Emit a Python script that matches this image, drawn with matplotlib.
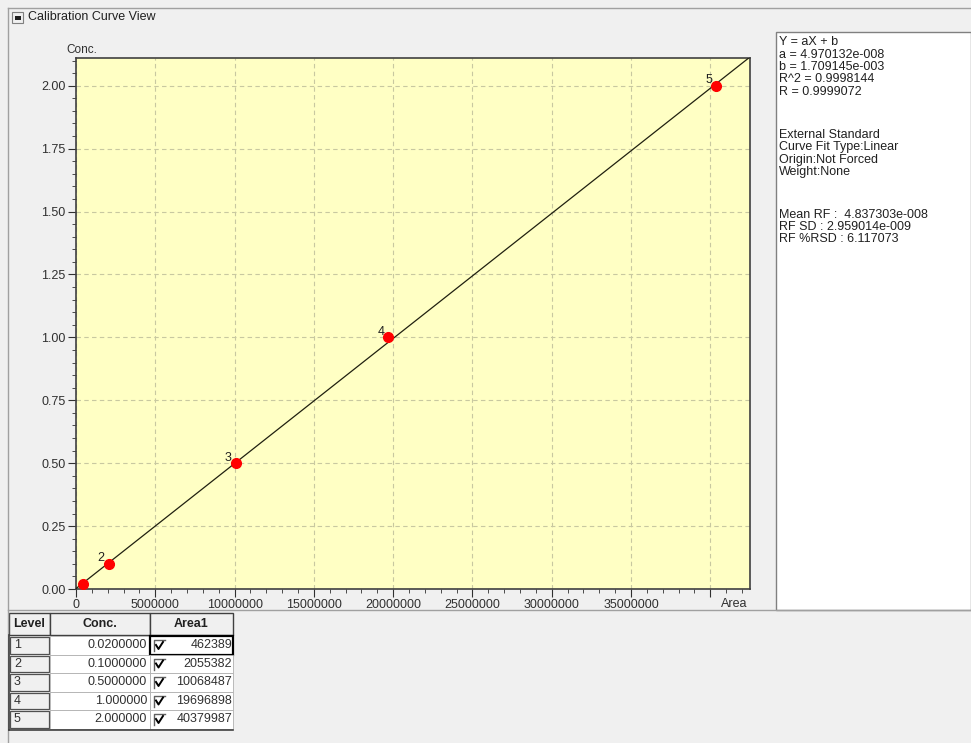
import matplotlib.pyplot as plt
from matplotlib.patches import Rectangle
from matplotlib.ticker import MultipleLocator, FixedLocator

plt.rcParams['font.family'] = ['Liberation Sans', 'DejaVu Sans']

# calibration levels
levels = [1, 2, 3, 4, 5]
conc = [0.02, 0.1, 0.5, 1.0, 2.0]
conc_txt = ['0.0200000', '0.1000000', '0.5000000', '1.000000', '2.000000']
area = [462389, 2055382, 10068487, 19696898, 40379987]

# fit coefficients
a = 4.970132e-08
b = 1.709145e-03

info = ['Y = aX + b',
        'a = 4.970132e-008',
        'b = 1.709145e-003',
        'R^2 = 0.9998144',
        'R = 0.9999072',
        '',
        'External Standard',
        'Curve Fit Type:Linear',
        'Origin:Not Forced',
        'Weight:None',
        '',
        'Mean RF :  4.837303e-008',
        'RF SD : 2.959014e-009',
        'RF %RSD : 6.117073']

W, H = 971, 743
fig = plt.figure(figsize=(W / 100, H / 100), dpi=100)
fig.patch.set_facecolor('#f0f0f0')

# overlay in pixel coordinates for the window chrome and the table
bg = fig.add_axes([0, 0, 1, 1], zorder=0)
bg.set_xlim(0, W)
bg.set_ylim(H, 0)
bg.axis('off')

bg.plot([8, W], [8, 8], color='#a0a0a0', lw=1)
bg.plot([8, 8], [8, H], color='#a0a0a0', lw=1)
bg.add_patch(Rectangle((12, 12), 11, 11, facecolor='#f0f0f0', edgecolor='#808080', lw=0.8))
bg.add_patch(Rectangle((14.5, 15.5), 6, 4, facecolor='#202020', edgecolor='none'))
bg.text(28, 17, 'Calibration Curve View', fontsize=9, va='center', color='#202020')
bg.plot([8, W], [610, 610], color='#a0a0a0', lw=1)

# right panel
bg.add_patch(Rectangle((776, 32), W - 776, 578, facecolor='white', edgecolor='#808080', lw=1))
yy = 42
for line in info:
    if line == '':
        yy += 30
        continue
    bg.text(779, yy, line, fontsize=9, va='center', color='#202020')
    yy += 12.5

# table
cols = [(9, 50, 'Level'), (50, 150, 'Conc.'), (150, 233, 'Area1')]
top = 613
hh = 22
rh = 18.5
for x0, x1, name in cols:
    bg.add_patch(Rectangle((x0, top), x1 - x0, hh, facecolor='#f0f0f0', edgecolor='#404040', lw=1))
    bg.text((x0 + x1) / 2, top + hh / 2, name, fontsize=9, fontweight='bold', ha='center', va='center', color='#202020')
for i in range(len(levels)):
    y0 = top + hh + 1 + i * rh
    bg.add_patch(Rectangle((10, y0 + 1), 39, rh - 2, facecolor='#f0f0f0', edgecolor='#505050', lw=0.9))
    bg.text(14, y0 + rh / 2, str(levels[i]), fontsize=9, va='center', color='#303030')
    bg.add_patch(Rectangle((50, y0), 100, rh, facecolor='white', edgecolor='#b0b0b0', lw=0.6))
    bg.text(147, y0 + rh / 2, conc_txt[i], fontsize=9, ha='right', va='center', color='#303030')
    ec = 'black' if i == 0 else '#b0b0b0'
    lw = 1.6 if i == 0 else 0.6
    bg.add_patch(Rectangle((150, y0), 83, rh, facecolor='white', edgecolor=ec, lw=lw))
    bg.plot([154, 154, 165], [y0 + 15, y0 + 4, y0 + 4], color='#606060', lw=1)
    bg.plot([156, 158.5, 163], [y0 + 9, y0 + 13, y0 + 6], color='black', lw=1.4)
    bg.text(232, y0 + rh / 2, str(area[i]), fontsize=9, ha='right', va='center', color='#303030')
bg.plot([9, 9], [top + hh, top + hh + 5 * rh + 2], color='#404040', lw=1.2)
bg.plot([9, 233], [top + hh + 5 * rh + 2, top + hh + 5 * rh + 2], color='#404040', lw=1.2)

# calibration plot
x0p, x1p, y0p, y1p = 76, 750, 58, 589
ax = fig.add_axes([x0p / W, 1 - y1p / H, (x1p - x0p) / W, (y1p - y0p) / H], zorder=2)
ax.set_facecolor('#ffffc4')
xmax = 42.5e6
ymax = 2.11
ax.set_xlim(0, xmax)
ax.set_ylim(0, ymax)

ax.plot([0, xmax], [b, a * xmax + b], color='#202010', lw=0.9, zorder=3)
ax.plot(area, conc, 'o', color='#ff0000', ms=7, zorder=4)
for lv, xv, yv in zip(levels[1:], area[1:], conc[1:]):
    ax.annotate(str(lv), (xv, yv), xytext=(-5.5, 4), textcoords='offset points',
                fontsize=9, color='#202020', ha='center', va='center', zorder=5)

ax.xaxis.set_major_locator(FixedLocator([0, 5e6, 10e6, 15e6, 20e6, 25e6, 30e6, 35e6, 40e6]))
ax.set_xticklabels(['0', '5000000', '10000000', '15000000', '20000000',
                    '25000000', '30000000', '35000000', ''])
ax.xaxis.set_minor_locator(MultipleLocator(1e6))
ax.yaxis.set_major_locator(MultipleLocator(0.25))
ax.yaxis.set_minor_locator(MultipleLocator(0.05))
ax.yaxis.set_major_formatter(plt.FormatStrFormatter('%.2f'))
ax.tick_params(which='both', labelsize=9, labelcolor='#303030', color='#303030', direction='out')
ax.tick_params(which='major', length=6, pad=1.5)
ax.tick_params(which='minor', length=3)
ax.grid(True, which='major', color='#c8c8a0', ls=(0, (4, 3)), lw=0.8)
for s in ax.spines.values():
    s.set_color('#404040')
    s.set_linewidth(1.2)

bg.text(66, 50, 'Conc.', fontsize=8.5, va='center', color='#303030')
bg.text(721, 604, 'Area', fontsize=9, va='center', color='#303030')

fig.savefig('out.png', dpi=100, facecolor=fig.get_facecolor())
